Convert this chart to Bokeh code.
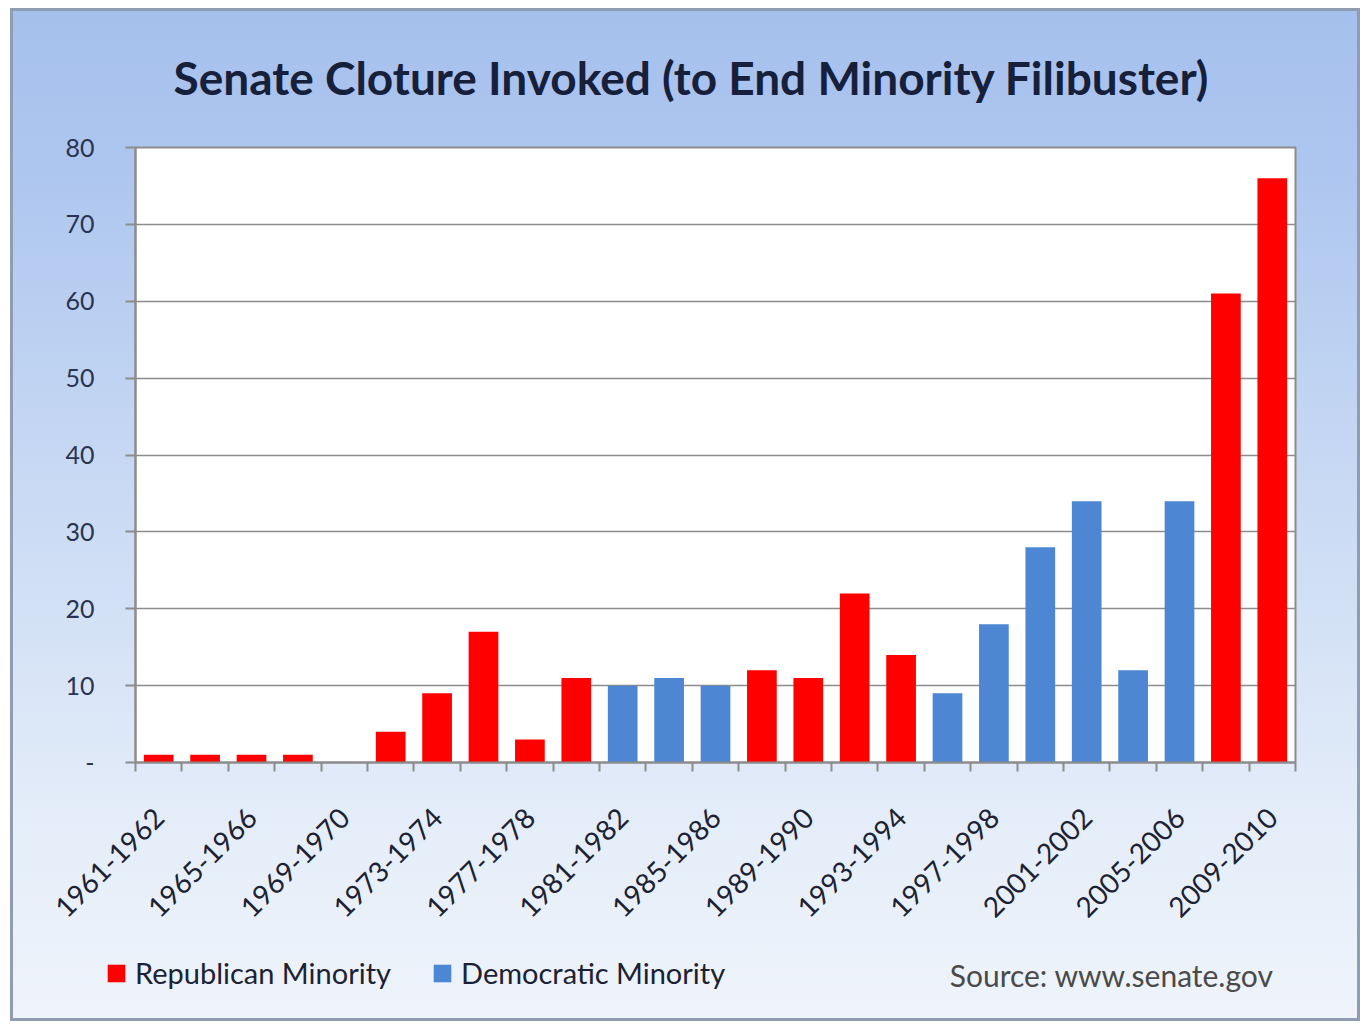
from bokeh.plotting import figure
from bokeh.layouts import column
from bokeh.models import (ColumnDataSource, FixedTicker, Range1d, Legend, LegendItem, Label)
from bokeh.embed import file_html
from bokeh.resources import INLINE
import math

# ---- data ----
categories = ["1961-1962", "1963-1964", "1965-1966", "1967-1968", "1969-1970",
              "1971-1972", "1973-1974", "1975-1976", "1977-1978", "1979-1980",
              "1981-1982", "1983-1984", "1985-1986", "1987-1988", "1989-1990",
              "1991-1992", "1993-1994", "1995-1996", "1997-1998", "1999-2000",
              "2001-2002", "2003-2004", "2005-2006", "2007-2008", "2009-2010"]
cloture_votes = [1, 1, 1, 1, 0, 4, 9, 17, 3, 11, 10, 11, 10, 12, 11, 22, 14,
                 9, 18, 28, 34, 12, 34, 61, 76]
minority = ["R", "R", "R", "R", "R", "R", "R", "R", "R", "R", "D", "D", "D",
            "R", "R", "R", "R", "D", "D", "D", "D", "D", "D", "R", "R"]
y_ticks = [0, 10, 20, 30, 40, 50, 60, 70, 80]
series_names = {"R": "Republican Minority", "D": "Democratic Minority"}
series_colors = {"R": "#ff0000", "D": "#4d87d4"}
title_text = "Senate Cloture Invoked (to End Minority Filibuster)"
source_text = "Source: www.senate.gov"

FONT = "Lato"
W = 1350


def series_source(key):
    idx = [i for i, m in enumerate(minority) if m == key]
    return ColumnDataSource(dict(x=idx, top=[cloture_votes[i] for i in idx]))


def bare_figure(height):
    fig = figure(width=W, height=height, output_backend="svg", toolbar_location=None,
                 x_range=Range1d(0, 1), y_range=Range1d(0, 1),
                 x_axis_location=None, y_axis_location=None,
                 min_border_left=0, min_border_right=0, min_border_top=0, min_border_bottom=0)
    fig.frame_align = False
    fig.border_fill_alpha = 0
    fig.background_fill_alpha = 0
    fig.outline_line_color = None
    fig.grid.visible = False
    return fig


# ---------------- header: title ----------------
h = bare_figure(100)
h.add_layout(Label(x=681, y=31, x_units="screen", y_units="screen", text=title_text,
                   text_font=FONT, text_font_style="bold", text_font_size="46px",
                   text_color="#16203a", text_align="center", text_baseline="middle"))

# ---------------- main chart ----------------
p = figure(width=W, height=837, output_backend="svg", toolbar_location=None,
           x_range=Range1d(-0.5, len(categories) - 0.5), y_range=Range1d(0, 80),
           min_border_left=125, min_border_right=65, min_border_top=39,
           min_border_bottom=183)
p.frame_align = False
p.border_fill_alpha = 0
p.background_fill_color = "white"
p.outline_line_color = "#8c8c8c"
p.outline_line_width = 2

for key in ["R", "D"]:
    p.vbar(x="x", top="top", width=0.64, source=series_source(key),
           fill_color=series_colors[key], line_color=None)

# grid
p.xgrid.grid_line_color = None
p.ygrid.grid_line_color = "#8c8c8c"
p.ygrid.grid_line_width = 1.5
p.ygrid.ticker = FixedTicker(ticks=y_ticks)

# x axis: labels on every other period, ticks between periods
xa = p.xaxis[0]
xa.ticker = FixedTicker(ticks=list(range(0, len(categories), 2)),
                        minor_ticks=[i - 0.5 for i in range(len(categories) + 1)])
xa.major_label_overrides = {i: categories[i] for i in range(0, len(categories), 2)}
xa.major_label_orientation = math.pi / 4
xa.major_tick_out = 0
xa.major_tick_in = 0
xa.minor_tick_out = 9
xa.minor_tick_in = 0
xa.minor_tick_line_color = "#8c8c8c"
xa.minor_tick_line_width = 2
xa.axis_line_color = "#8c8c8c"
xa.axis_line_width = 2
xa.major_label_text_font = FONT
xa.major_label_text_font_size = "28px"
xa.major_label_text_color = "#1c2233"
xa.major_label_standoff = 41

# y axis
ya = p.yaxis[0]
ya.ticker = FixedTicker(ticks=y_ticks)
ya.major_label_overrides = {0: "-"}
ya.minor_tick_line_color = None
ya.major_tick_out = 10
ya.major_tick_in = 0
ya.major_tick_line_color = "#8c8c8c"
ya.major_tick_line_width = 2
ya.axis_line_color = "#8c8c8c"
ya.axis_line_width = 2
ya.major_label_text_font = FONT
ya.major_label_text_font_size = "25px"
ya.major_label_text_color = "#2a3450"
ya.major_label_standoff = 31

# ---------------- footer: legend + source ----------------
f = bare_figure(76)
legend_renderers = {}
for key in ["R", "D"]:
    # same series, kept hidden: used only to draw the legend swatches
    legend_renderers[key] = f.vbar(x="x", top="top", width=0.64, source=series_source(key),
                                   fill_color=series_colors[key], line_color=None,
                                   visible=False)

legend = Legend(items=[LegendItem(label=series_names[k], renderers=[legend_renderers[k]])
                       for k in ["R", "D"]],
                orientation="horizontal", location=(95, 31))
legend.background_fill_alpha = 0
legend.border_line_color = None
legend.padding = 0
legend.margin = 0
legend.spacing = 40
legend.glyph_width = 22
legend.glyph_height = 22
legend.label_standoff = 8
legend.label_text_font = FONT
legend.label_text_font_size = "29px"
legend.label_text_color = "#1c2233"
legend.inactive_fill_alpha = 0
f.add_layout(legend, "center")

f.add_layout(Label(x=1263, y=47, x_units="screen", y_units="screen", text=source_text,
                   text_font=FONT, text_font_size="30px", text_color="#4a4a4a",
                   text_align="right", text_baseline="middle"))

layout = column(h, p, f)
layout.margin = (8, 0, 0, 10)
layout.styles = {"background": "linear-gradient(to bottom, #a6c0ed 0%, #adc6ef 15%, #cbdbf4 50%, #e4edf9 80%, #eff4fb 100%)",
                 "box-shadow": "inset 0 0 0 3px #8e9cb4"}

open("out.html", "w").write(file_html(layout, INLINE))
